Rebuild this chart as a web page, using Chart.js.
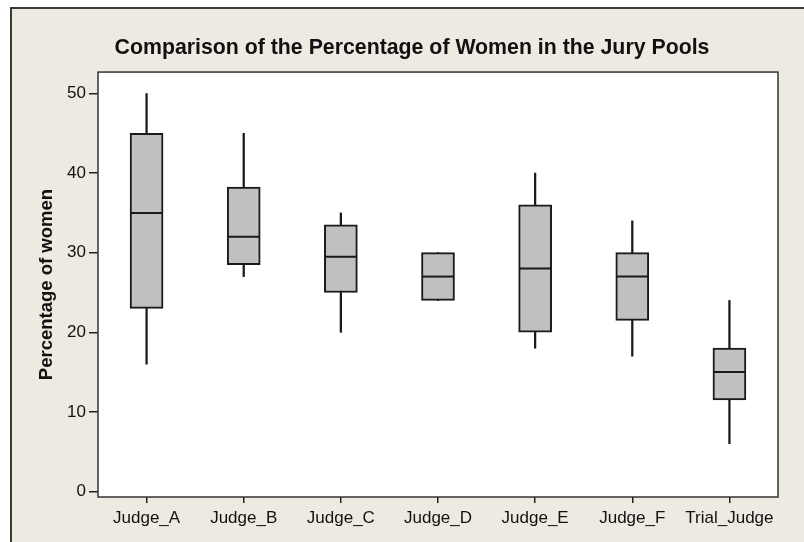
<!DOCTYPE html>
<html>
<head>
<meta charset="utf-8">
<script src="https://cdn.jsdelivr.net/npm/chart.js@4.4.1/dist/chart.umd.min.js"></script>
<style>
  html, body { margin: 0; padding: 0; background: #ffffff; overflow: hidden; }
  .frame {
    position: absolute; left: 10px; top: 7px; width: 1000px; height: 1000px;
    background: #eeeae1; border-left: 2px solid #3a3a3a; border-top: 2px solid #3a3a3a;
  }
  #box-chart { position: absolute; left: 0; top: 0; }
</style>
</head>
<body>
<div class="frame"></div>
<canvas id="box-chart" width="804" height="542"></canvas>
<script>
const categories = ['Judge_A', 'Judge_B', 'Judge_C', 'Judge_D', 'Judge_E', 'Judge_F', 'Trial_Judge'];
const whiskerLow = [16, 27, 20, 24, 18, 17, 6];
const q1 = [23, 28.5, 25, 24, 20, 21.5, 11.5];
const medians = [35, 32, 29.5, 27, 28, 27, 15];
const q3 = [45, 38.25, 33.5, 30, 36, 30, 18];
const whiskerHigh = [50, 45, 35, 30, 40, 34, 24];
const yTicks = [0, 10, 20, 30, 40, 50];

const fontFamily = "'Liberation Sans', Arial, sans-serif";

// white plot region with a dark frame round it
const plotFrame = {
  id: 'plotFrame',
  beforeDraw(chart) {
    const {ctx, chartArea: a} = chart;
    ctx.save();
    ctx.fillStyle = '#ffffff';
    ctx.fillRect(a.left, a.top, a.right - a.left, a.bottom - a.top);
    ctx.restore();
  },
  afterDraw(chart) {
    const {ctx, chartArea: a} = chart;
    ctx.save();
    ctx.strokeStyle = '#333333';
    ctx.lineWidth = 1.5;
    ctx.strokeRect(a.left, a.top, a.right - a.left, a.bottom - a.top);
    ctx.restore();
  }
};

const ctx = document.getElementById('box-chart').getContext('2d');

new Chart(ctx, {
  type: 'bar',
  data: {
    labels: categories,
    datasets: [
      {
        type: 'line',
        data: medians,
        showLine: false,
        pointStyle: 'line',
        pointRadius: 16,
        pointBorderWidth: 2,
        pointBorderColor: '#1a1a1a',
        order: 1
      },
      {
        data: q1.map((v, i) => [v, q3[i]]),
        grouped: false,
        barThickness: 33,
        backgroundColor: '#c0c0c0',
        borderColor: '#1a1a1a',
        borderWidth: 2,
        borderSkipped: false,
        order: 2
      },
      {
        data: whiskerLow.map((v, i) => [v, whiskerHigh[i]]),
        grouped: false,
        barThickness: 1.6,
        backgroundColor: '#1a1a1a',
        borderWidth: 0,
        order: 3
      }
    ]
  },
  options: {
    responsive: false,
    animation: false,
    layout: {
      padding: { left: 46, right: 26, top: 0, bottom: 0 }
    },
    plugins: {
      legend: { display: false },
      tooltip: { enabled: false },
      title: {
        display: true,
        text: 'Comparison of the Percentage of Women in the Jury Pools',
        color: '#111111',
        font: { family: fontFamily, size: 21.3, weight: 'bold' },
        padding: { top: 35, bottom: 11.5 }
      }
    },
    scales: {
      x: {
        offset: true,
        border: { display: false },
        grid: {
          display: true,
          offset: false,
          drawOnChartArea: false,
          drawTicks: true,
          tickLength: 6,
          color: '#222222',
          lineWidth: 1.5
        },
        ticks: {
          color: '#111111',
          font: { family: fontFamily, size: 17 },
          padding: 5,
          maxRotation: 0,
          autoSkip: false
        },
        afterFit(scale) { scale.height = 45; }
      },
      y: {
        min: -0.7,
        max: 52.7,
        border: { display: false },
        grid: {
          display: true,
          drawOnChartArea: false,
          drawTicks: true,
          tickLength: 9,
          color: '#222222',
          lineWidth: 1.5
        },
        ticks: {
          color: '#111111',
          font: { family: fontFamily, size: 17 },
          padding: 3
        },
        afterBuildTicks(scale) {
          scale.ticks = yTicks.map(v => ({ value: v }));
        },
        title: {
          display: true,
          text: 'Percentage of women',
          color: '#111111',
          font: { family: fontFamily, size: 18.5, weight: 'bold' },
          padding: { top: -9.8, bottom: 0 }
        },
        afterFit(scale) { scale.width = 52; }
      }
    }
  },
  plugins: [plotFrame]
});
</script>
</body>
</html>
